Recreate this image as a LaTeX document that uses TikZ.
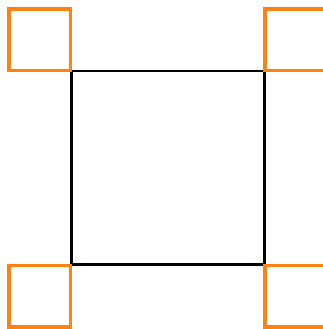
\documentclass[tikz,border=0pt]{standalone}
\begin{document}
\begin{tikzpicture}[x=1pt,y=-1pt,
  mainsq/.style={draw=black,line width=2.9pt},
  cornersq/.style={draw={rgb,255:red,255;green,131;blue,15},line width=3.6pt}]
\useasboundingbox (0,0) rectangle (322,329);
\draw[mainsq] (71.5,71) rectangle (264.5,264.5);
\draw[cornersq] (9,9.3) rectangle (70.5,70.5);
\draw[cornersq] (264.7,9.3) rectangle (326.5,70.5);
\draw[cornersq] (9,265.5) rectangle (70.5,327);
\draw[cornersq] (264.7,265.5) rectangle (326.5,327);
\end{tikzpicture}
\end{document}
